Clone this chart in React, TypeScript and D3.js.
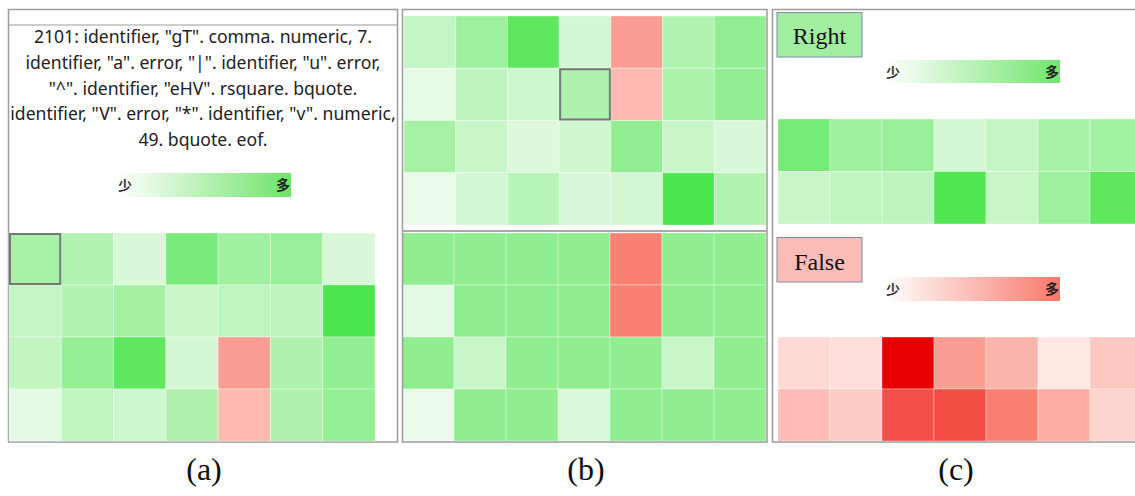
import React from "react";
import * as d3 from "d3";

// ---- data ----
const columns = ["c1", "c2", "c3", "c4", "c5", "c6", "c7"];
const rows4 = ["r1", "r2", "r3", "r4"];
const rows2 = ["r1", "r2"];

// positive = green intensity, negative = red intensity
const panelAValues = [
  [0.45, 0.38, 0.15, 0.7, 0.48, 0.52, 0.15],
  [0.27, 0.38, 0.46, 0.24, 0.3, 0.31, 0.95],
  [0.28, 0.55, 0.85, 0.18, -0.45, 0.4, 0.56],
  [0.08, 0.3, 0.22, 0.4, -0.3, 0.4, 0.55],
];
const panelBTopValues = [
  [0.27, 0.5, 0.85, 0.18, -0.45, 0.39, 0.56],
  [0.07, 0.31, 0.22, 0.4, -0.3, 0.42, 0.56],
  [0.45, 0.24, 0.13, 0.2, 0.56, 0.24, 0.15],
  [0.04, 0.19, 0.35, 0.15, 0.19, 0.95, 0.38],
];
const panelBBottomValues = [
  [0.58, 0.58, 0.58, 0.58, -0.6, 0.58, 0.58],
  [0.08, 0.58, 0.58, 0.58, -0.6, 0.58, 0.58],
  [0.58, 0.25, 0.58, 0.58, 0.58, 0.25, 0.58],
  [0.04, 0.58, 0.58, 0.14, 0.58, 0.58, 0.58],
];
const panelCRightValues = [
  [0.72, 0.5, 0.52, 0.18, 0.27, 0.44, 0.47],
  [0.24, 0.3, 0.31, 0.92, 0.24, 0.5, 0.85],
];
const panelCFalseValues = [
  [-0.13, -0.1, -1.0, -0.45, -0.32, -0.06, -0.22],
  [-0.28, -0.2, -0.75, -0.76, -0.6, -0.36, -0.16],
];

const tokenLines = [
  '2101: identifier, "gT". comma. numeric, 7.',
  'identifier, "a". error, "|". identifier, "u". error,',
  '"^". identifier, "eHV". rsquare. bquote.',
  'identifier, "V". error, "*". identifier, "v". numeric,',
  "49. bquote. eof.",
];
const legendLow = "少";
const legendHigh = "多";
const panelLabels = ["(a)", "(b)", "(c)"];
const boxLabels = ["Right", "False"];

// ---- colour scales ----
const greenScale = d3
  .scaleLinear<string>()
  .domain([0, 0.58, 1])
  .range(["#f2fcf2", "#90ee90", "#44e444"])
  .interpolate(d3.interpolateRgb);
const redScale = d3
  .scaleLinear<string>()
  .domain([0, 0.6, 1])
  .range(["#fff2f1", "#fa8072", "#e80000"])
  .interpolate(d3.interpolateRgb);
const cellColor = (v: number) => (v >= 0 ? greenScale(v) : redScale(-v));

type HeatProps = {
  values: number[][];
  rows: string[];
  x0: number;
  x1: number;
  y0: number;
  y1: number;
  highlight?: [number, number];
};

function Heat({ values, rows, x0, x1, y0, y1, highlight }: HeatProps) {
  const x = d3.scaleBand().domain(columns).range([x0, x1]);
  const y = d3.scaleBand().domain(rows).range([y0, y1]);
  return (
    <g>
      {values.map((row, ri) =>
        row.map((v, ci) => (
          <rect
            key={`${ri}-${ci}`}
            x={x(columns[ci])}
            y={y(rows[ri])}
            width={x.bandwidth()}
            height={y.bandwidth()}
            fill={cellColor(v)}
            stroke="rgba(255,255,255,0.35)"
            strokeWidth={1}
          />
        ))
      )}
      {highlight && (
        <rect
          x={(x(columns[highlight[1]]) as number) + 1}
          y={(y(rows[highlight[0]]) as number) + 1}
          width={x.bandwidth() - 2}
          height={y.bandwidth() - 2}
          fill="none"
          stroke="#777"
          strokeWidth={2}
        />
      )}
    </g>
  );
}

function Legend({ x, y, w, h, id, end }: { x: number; y: number; w: number; h: number; id: string; end: string }) {
  return (
    <g>
      <defs>
        <linearGradient id={id} x1="0" x2="1" y1="0" y2="0">
          <stop offset="0" stopColor="#ffffff" />
          <stop offset="1" stopColor={end} />
        </linearGradient>
      </defs>
      <rect x={x} y={y} width={w} height={h} fill={`url(#${id})`} />
      <text x={x + 1} y={y + h / 2 + 5} fontFamily="'Noto Sans CJK SC'" fontSize={14} fontWeight={700} fill="#333">
        {legendLow}
      </text>
      <text
        x={x + w - 1}
        y={y + h / 2 + 5}
        textAnchor="end"
        fontFamily="'Noto Sans CJK SC'"
        fontSize={14}
        fontWeight={700}
        fill="#222"
      >
        {legendHigh}
      </text>
    </g>
  );
}

export default function App() {
  const W = 1135;
  const H = 496;
  const border = "#9c9c9c";
  return (
    <svg width={W} height={H} style={{ position: "absolute", left: 0, top: 0, background: "#fff" }}>
      <defs>
        <clipPath id="clipC">
          <rect x={773} y={0} width={W - 773} height={H} />
        </clipPath>
      </defs>
      <rect x={0} y={0} width={W} height={H} fill="#fff" />

      {/* Panel (a) */}
      <rect x={8.5} y={9.5} width={389} height={432.5} fill="none" stroke={border} strokeWidth={1.5} />
      <line x1={8.5} x2={397.5} y1={25} y2={25} stroke={border} strokeWidth={1} />
      {tokenLines.map((t, i) => (
        <text
          key={i}
          x={203}
          y={43 + i * 25.8}
          textAnchor="middle"
          fontFamily="'Noto Sans', sans-serif"
          fontSize={17.6}
          fill="#222"
        >
          {t}
        </text>
      ))}
      <Legend x={117} y={173} w={174} h={24} id="gA" end="#6ee46a" />
      <Heat values={panelAValues} rows={rows4} x0={9} x1={375} y0={233} y1={441} highlight={[0, 0]} />

      {/* Panel (b) */}
      <Heat values={panelBTopValues} rows={rows4} x0={404} x1={766} y0={16} y1={225} highlight={[1, 3]} />
      <Heat values={panelBBottomValues} rows={rows4} x0={402} x1={766} y0={233} y1={441} />
      <rect x={402.5} y={9.5} width={364.5} height={432.5} fill="none" stroke={border} strokeWidth={1.5} />
      <line x1={402.5} x2={767} y1={231} y2={231} stroke="#aaa" strokeWidth={2} />

      {/* Panel (c) */}
      <g clipPath="url(#clipC)">
        <Heat values={panelCRightValues} rows={rows2} x0={778} x1={1142} y0={119} y1={224} />
        <Heat values={panelCFalseValues} rows={rows2} x0={778} x1={1142} y0={337} y1={441} />
      </g>
      <rect x={772.5} y={9.5} width={400} height={432.5} fill="none" stroke={border} strokeWidth={1.5} />
      <rect x={777} y={12.5} width={85} height={44.5} fill="#a2eea0" stroke="#7d8aa6" strokeWidth={1} />
      <text x={819.5} y={44} textAnchor="middle" fontFamily="'Liberation Serif', serif" fontSize={24} fill="#111">
        {boxLabels[0]}
      </text>
      <Legend x={885} y={60} w={175} h={23} id="gC1" end="#72e46e" />
      <rect x={777} y={237.5} width={85} height={44.5} fill="#fbbcb8" stroke="#7d8aa6" strokeWidth={1} />
      <text x={819.5} y={270} textAnchor="middle" fontFamily="'Liberation Serif', serif" fontSize={24} fill="#111">
        {boxLabels[1]}
      </text>
      <Legend x={885} y={277} w={175} h={24} id="gC2" end="#f8786a" />

      {/* Panel labels */}
      {panelLabels.map((l, i) => (
        <text
          key={l}
          x={[204, 586, 956][i]}
          y={480}
          textAnchor="middle"
          fontFamily="'Liberation Serif', serif"
          fontSize={32}
          fill="#111"
        >
          {l}
        </text>
      ))}
    </svg>
  );
}
